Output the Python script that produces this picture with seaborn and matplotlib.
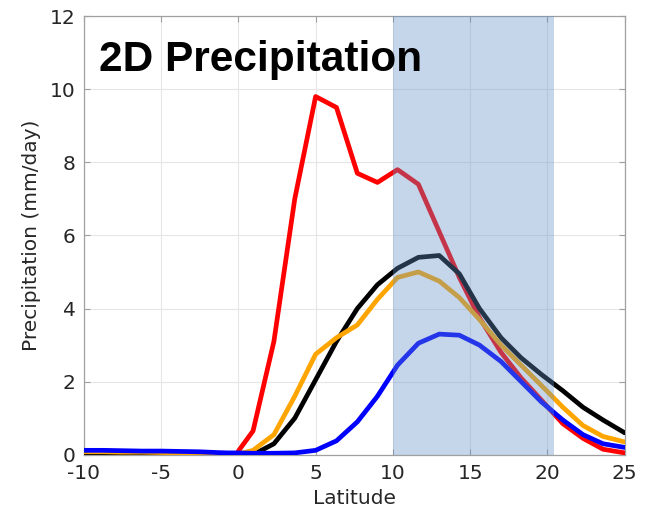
import numpy as np
import pandas as pd
import matplotlib
matplotlib.use('Agg')
import matplotlib.pyplot as plt
import seaborn as sns

nan = np.nan

# latitude grid (deg)
lat = [-10.0, -8.75, -7.5, -6.25, -5.0, -3.75, -2.5, -1.4, -0.7, 0.0, 0.95, 2.3, 3.65,
       5.0, 6.35, 7.7, 9.0, 10.3, 11.65, 13.0, 14.3, 15.6, 17.0, 18.3, 19.6, 21.0,
       22.3, 23.6, 25.0]

# precipitation (mm/day), NaN where the run has no data
red = [0.02, 0.02, 0.02, 0.02, 0.02, nan, nan, nan, nan, 0.1, 0.65, 3.1, 7.0,
       9.8, 9.5, 7.7, 7.45, 7.8, 7.4, 6.1, 4.85, 3.75, 2.8, 2.1, 1.5, 0.85,
       0.45, 0.15, 0.05]
black = [0.0, 0.0, 0.0, 0.0, 0.0, 0.0, 0.0, nan, nan, 0.0, 0.0, 0.3, 1.0,
         2.05, 3.1, 4.0, 4.65, 5.1, 5.4, 5.45, 4.95, 4.0, 3.2, 2.65, 2.2, 1.75,
         1.3, 0.95, 0.6]
orange = [0.08, 0.08, 0.07, 0.07, 0.06, 0.05, 0.04, 0.0, nan, 0.02, 0.12, 0.55, 1.6,
          2.75, 3.2, 3.55, 4.25, 4.85, 5.0, 4.75, 4.3, 3.7, 3.0, 2.45, 1.9, 1.3,
          0.8, 0.5, 0.35]
blue = [0.12, 0.12, 0.11, 0.1, 0.1, 0.09, 0.08, 0.06, 0.05, 0.05, 0.04, 0.04, 0.05,
        0.12, 0.38, 0.9, 1.6, 2.45, 3.05, 3.3, 3.27, 3.0, 2.55, 2.0, 1.45, 0.95,
        0.55, 0.3, 0.2]

runs = {'red': red, 'black': black, 'orange': orange, 'blue': blue}
colors = {'red': '#FF0000', 'black': '#000000', 'orange': '#FFA500', 'blue': '#0000FF'}

# long-form table, with a segment id so NaN gaps break the lines
rows = []
for name, vals in runs.items():
    seg = 0
    for x, y in zip(lat, vals):
        if np.isnan(y):
            seg += 1
            continue
        rows.append({'lat': x, 'precip': y, 'run': name, 'seg': f'{name}{seg}'})
df = pd.DataFrame(rows)

sns.set_style('ticks')
plt.rcParams['font.family'] = ['DejaVu Sans']
plt.rcParams['axes.unicode_minus'] = False

fig = plt.figure(figsize=(6.5, 5.13), dpi=100)
ax = fig.add_axes([0.129, 0.1136, 0.832, 0.855])

sns.lineplot(data=df, x='lat', y='precip', hue='run', units='seg', estimator=None,
             palette=colors, hue_order=list(runs), linewidth=3.4, legend=False,
             ax=ax, zorder=3)

# shaded band drawn over the lines
ax.axvspan(10, 20.4, color='#6392C8', alpha=0.37, lw=0, zorder=4)

ax.set_xlim(-10, 25)
ax.set_ylim(0, 12)
ax.set_xticks(range(-10, 26, 5))
ax.set_yticks(range(0, 13, 2))
ax.grid(True, color='#e6e6e6', lw=0.8, zorder=0)
ax.set_axisbelow(True)
ax.tick_params(direction='in', length=4, width=0.8, colors='#a0a0a0',
               labelcolor='#262626', labelsize=14.5, top=True, right=True)
ax.tick_params(axis='x', pad=7)
ax.tick_params(axis='y', pad=6)
for s in ax.spines.values():
    s.set_color('#a0a0a0')
    s.set_linewidth(0.9)

ax.set_xlabel('Latitude', fontsize=14.5, color='#262626', labelpad=4)
ax.set_ylabel('Precipitation (mm/day)', fontsize=14.5, color='#262626', labelpad=6)

ax.text(-9.0, 10.8, '2D Precipitation', fontsize=30.5, fontweight='bold',
        family=['Liberation Sans', 'DejaVu Sans'], va='center', ha='left',
        color='black', zorder=5)

fig.savefig('out.png', dpi=100)
